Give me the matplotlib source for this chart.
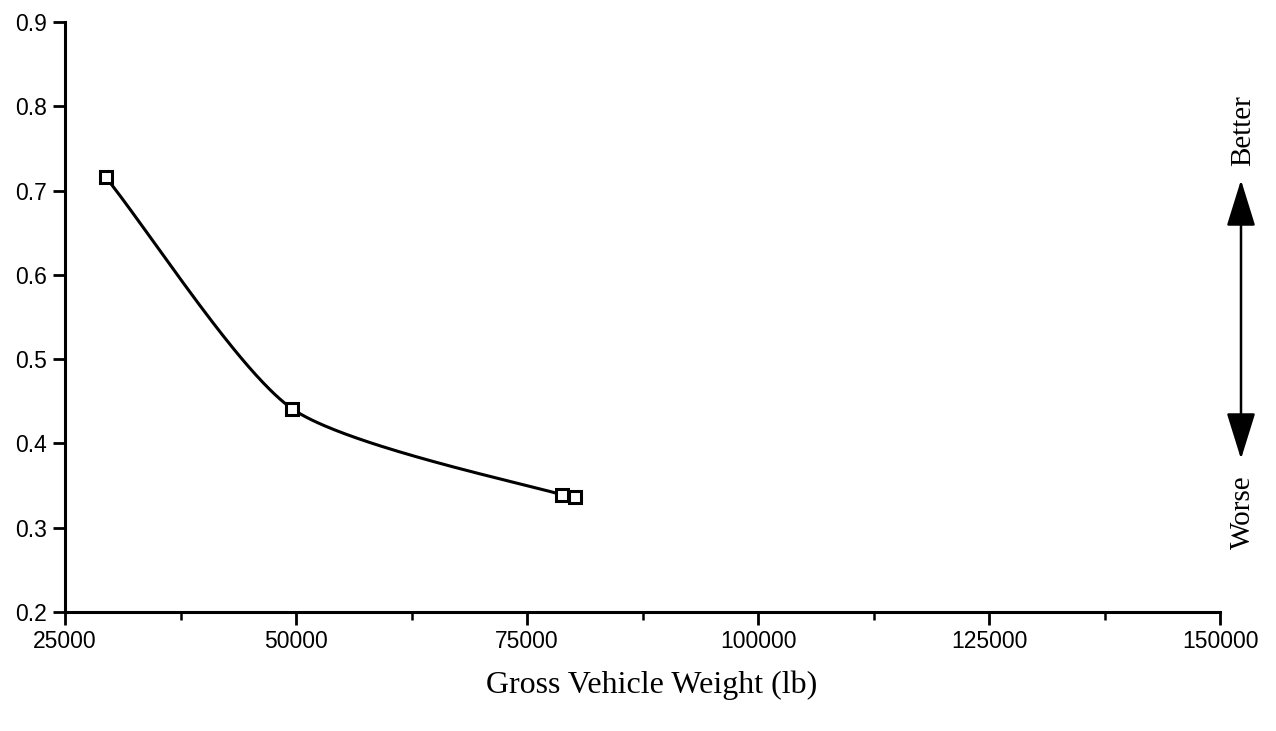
import numpy as np
import matplotlib
matplotlib.use("Agg")
import matplotlib.pyplot as plt
from matplotlib.ticker import MultipleLocator, FixedLocator

gvw = [29400, 49600, 78800, 80200]
value = [0.716, 0.441, 0.339, 0.337]
xticks = [25000, 50000, 75000, 100000, 125000, 150000]
yticks = [0.2, 0.3, 0.4, 0.5, 0.6, 0.7, 0.8, 0.9]
xlabel = "Gross Vehicle Weight (lb)"


def cardinal(xs, ys, tension=0.5, n=80):
    P = np.column_stack([xs, ys]).astype(float)
    m = np.zeros_like(P)
    for i in range(len(P)):
        a = P[max(i - 1, 0)]
        b = P[min(i + 1, len(P) - 1)]
        m[i] = (1 - tension) * (b - a) / (2 if 0 < i < len(P) - 1 else 1)
    out = []
    t = np.linspace(0, 1, n)[:, None]
    h00 = 2 * t**3 - 3 * t**2 + 1
    h10 = t**3 - 2 * t**2 + t
    h01 = -2 * t**3 + 3 * t**2
    h11 = t**3 - t**2
    for i in range(len(P) - 1):
        out.append(h00 * P[i] + h10 * m[i] + h01 * P[i + 1] + h11 * m[i + 1])
    out = np.vstack(out)
    return out[:, 0], out[:, 1]


fig = plt.figure(figsize=(12.76, 7.31), dpi=100)
ax = fig.add_axes([65 / 1276, 1 - 612 / 731, (1220 - 65) / 1276, (612 - 22) / 731])

sx = (np.array(gvw) - 25000) / 125000
sy = (np.array(value) - 0.2) / 0.7
cx, cy = cardinal(sx, sy, tension=0.3)
ax.plot(cx * 125000 + 25000, cy * 0.7 + 0.2, color="black", lw=2.2)
ax.plot(gvw, value, linestyle="none", marker="s", markersize=9, markerfacecolor="white",
        markeredgecolor="black", markeredgewidth=2.2)

ax.set_xlim(25000, 150000)
ax.set_ylim(0.2, 0.9)
ax.xaxis.set_major_locator(FixedLocator(xticks))
ax.xaxis.set_minor_locator(MultipleLocator(12500))
ax.yaxis.set_major_locator(FixedLocator(yticks))
ax.set_xticklabels([str(v) for v in xticks])
ax.set_yticklabels([f"{v:.1f}" for v in yticks])
for s in ("top", "right"):
    ax.spines[s].set_visible(False)
for s in ("left", "bottom"):
    ax.spines[s].set_linewidth(2.2)
ax.tick_params(axis="both", which="major", length=9, width=2, labelsize=16.5, direction="out", pad=4)
ax.tick_params(axis="x", which="minor", length=6, width=1.8, direction="out")
ax.tick_params(axis="y", which="minor", length=0)
for lab in ax.get_xticklabels() + ax.get_yticklabels():
    lab.set_fontfamily("Liberation Sans")

fig.text(652 / 1276, 1 - 685 / 731, xlabel, ha="center", va="center",
         fontsize=23, fontfamily="Liberation Serif")

# Better / Worse arrow
fig.add_artist(matplotlib.patches.FancyArrowPatch(
    (1241 / 1276, 1 - 459 / 731), (1241 / 1276, 1 - 180 / 731),
    transform=fig.transFigure, arrowstyle="<|-|>,head_length=1.45,head_width=0.45",
    mutation_scale=20, color="black", lw=1.8, shrinkA=0, shrinkB=0))
fig.text(1243 / 1276, 1 - 131 / 731, "Better", rotation=90, ha="center", va="center",
         fontsize=21, fontfamily="Liberation Serif")
fig.text(1243 / 1276, 1 - 512 / 731, "Worse", rotation=90, ha="center", va="center",
         fontsize=21, fontfamily="Liberation Serif")

fig.savefig("out.png", dpi=100)
